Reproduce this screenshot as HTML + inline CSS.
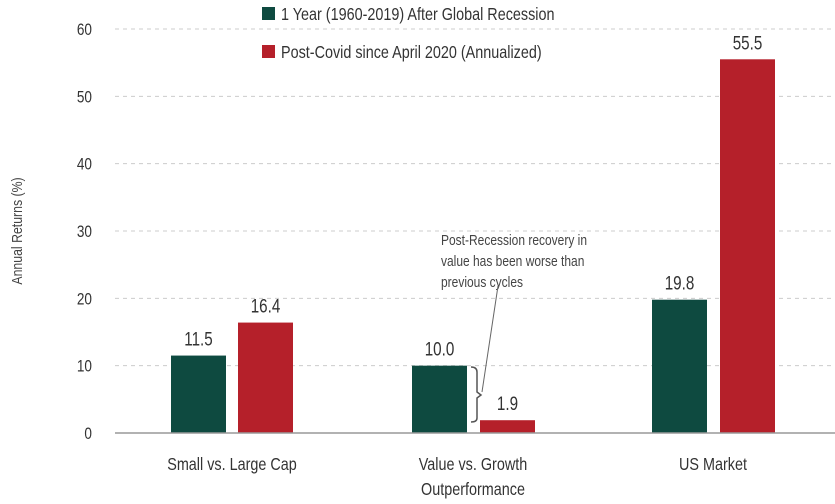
<!DOCTYPE html>
<html><head><meta charset="utf-8"><style>
body{margin:0;background:#fff;}
svg{display:block;font-family:"Liberation Sans Narrow","Liberation Sans",sans-serif;}
</style></head><body>
<svg id="c" width="835" height="504"></svg>
<script>
const categories=[["Small vs. Large Cap"],["Value vs. Growth","Outperformance"],["US Market"]];
const seriesNames=["1 Year (1960-2019) After Global Recession","Post-Covid since April 2020 (Annualized)"];
const seriesA=[11.5,10.0,19.8];
const seriesB=[16.4,1.9,55.5];
const yTicks=[0,10,20,30,40,50,60];
const colors=["#0e4a40","#b5202a"];
const svg=document.getElementById('c');
const NS="http://www.w3.org/2000/svg";
function y(v){return 433-v*(404/60);}
const groupX=[171,412,652];
function mk(t,a,txt){const e=document.createElementNS(NS,t);for(const k in a)e.setAttribute(k,a[k]);if(txt!==undefined)e.textContent=txt;svg.appendChild(e);return e;}
function cond(e,x,s){e.setAttribute('transform','translate('+x+',0) scale('+(s||0.8)+',1) translate('+(-x)+',0)');return e;}
yTicks.forEach(v=>{
 if(v>0){const g=mk('line',{x1:115,x2:835,y1:y(v),y2:y(v),stroke:'#ccc','stroke-dasharray':'4,4'});
 
 }
 const t=cond(mk('text',{x:92,y:y(v)+6,'text-anchor':'end','font-size':17,fill:'#333'},String(v)),92);
 
 
});
const yt=mk('text',{x:22,y:231,'text-anchor':'middle','font-size':15,fill:'#444',transform:'rotate(-90 22 231) translate(22,0) scale(0.82,1) translate(-22,0)'},'Annual Returns (%)');


[seriesA,seriesB].forEach((s,si)=>{
 s.forEach((v,i)=>{
  const x=groupX[i]+si*(i==0?67:68);
  const r=mk('rect',{x:x,y:y(v),width:55,height:433-y(v),fill:colors[si]});
  
  
  const l=cond(mk('text',{x:x+27.5,y:y(v)-10,'text-anchor':'middle','font-size':19,fill:'#333'},v.toFixed(1)),x+27.5);
  
  
 });
});
const ax=mk('line',{x1:115,x2:835,y1:433,y2:433,stroke:'#999','stroke-width':1.5});


categories.forEach((c,i)=>{
 c.forEach((ln,j)=>{
  const cx=groupX[i]+61;
  const t=cond(mk('text',{x:cx,y:470+j*25,'text-anchor':'middle','font-size':18,fill:'#333'},ln),cx);
  
  
 });
});
seriesNames.forEach((n,i)=>{
 const r=mk('rect',{x:262,y:7+i*38,width:13,height:13,fill:colors[i]});
 
 
 const t=cond(mk('text',{x:281,y:20+i*38,'font-size':18,fill:'#333'},n),281);
 
 
});
["Post-Recession recovery in","value has been worse than","previous cycles"].forEach((ln,j)=>{
 const t=cond(mk('text',{x:441,y:245+j*21,'font-size':15,fill:'#444'},ln),441);
 
 
});
const al=mk('line',{x1:498,y1:286,x2:482,y2:392,stroke:'#666','stroke-width':1});


const br=mk('path',{d:'M471 367 Q477 367 477 372 L477 392 L481 395 L477 398 L477 418 Q477 422 471 422',fill:'none',stroke:'#555','stroke-width':1.5});


</script>
</body></html>
